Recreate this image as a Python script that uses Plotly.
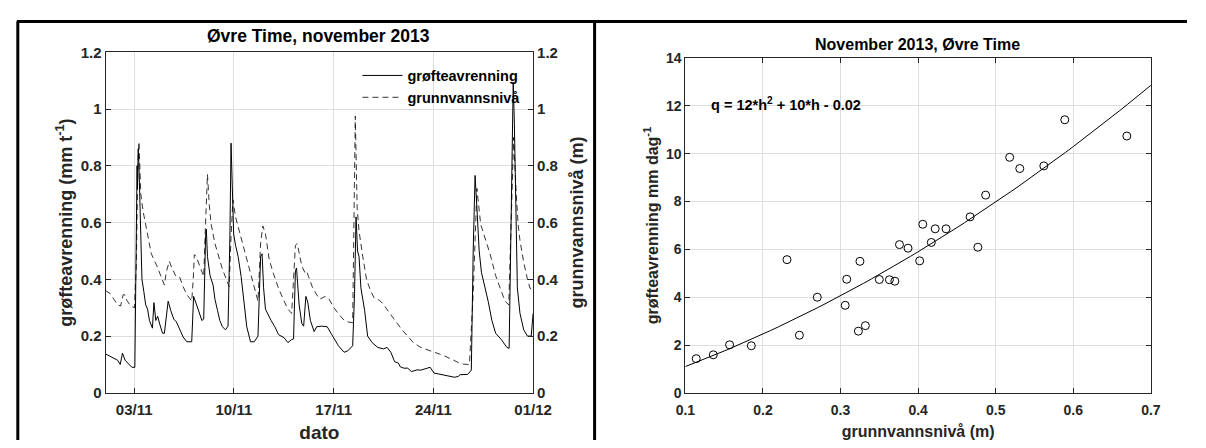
import pandas as pd
import plotly.graph_objects as go

# ---------------- data: left panel (time series, days after 2013-11-01 00:00) ----------------
q_days = [0, 0.447, 0.841, 1.024, 1.182, 1.366, 1.629, 1.839, 2.049, 2.101, 2.154, 2.206, 2.233, 2.285,
          2.338, 2.417, 2.548, 2.679, 2.811, 2.942, 3.073, 3.283, 3.389, 3.520, 3.651, 3.809, 3.993,
          4.124, 4.387, 4.571, 4.781, 4.965, 5.175, 5.437, 5.700, 6.042, 6.173, 6.357, 6.488, 6.751,
          6.882, 7.013, 7.066, 7.145, 7.329, 7.539, 7.670, 7.854, 8.012, 8.196, 8.406, 8.590, 8.721,
          8.800, 8.905, 8.984, 9.115, 9.299, 9.509, 9.719, 9.903, 10.166, 10.428, 10.691, 10.875,
          10.980, 11.085, 11.216, 11.348, 11.610, 11.873, 12.136, 12.530, 12.792, 13.055, 13.186,
          13.318, 13.396, 13.580, 13.764, 13.896, 14.053, 14.185, 14.368, 14.631, 14.815, 15.156,
          15.550, 15.813, 16.023, 16.338, 16.732, 16.995, 17.337, 17.468, 17.573, 17.678, 17.783,
          17.914, 18.177, 18.387, 18.703, 19.097, 19.490, 19.753, 20.016, 20.278, 20.541, 20.673,
          20.935, 21.198, 21.461, 21.855, 22.117, 22.774, 23.037, 23.431, 23.825, 24.219, 24.481,
          24.744, 24.875, 25.401, 25.663, 25.795, 25.926, 26.057, 26.215, 26.372, 26.583, 26.845,
          27.108, 27.371, 27.765, 28.159, 28.317, 28.422, 28.527, 28.605, 28.684, 28.789, 28.894,
          29.078, 29.341, 29.603, 29.866, 30.0]
q_vals = [0.137, 0.125, 0.115, 0.10, 0.14, 0.115, 0.10, 0.09, 0.09, 0.35, 0.70, 0.80, 0.72, 0.86,
          0.80, 0.60, 0.40, 0.357, 0.31, 0.295, 0.255, 0.228, 0.318, 0.255, 0.27, 0.24, 0.21,
          0.21, 0.323, 0.29, 0.26, 0.25, 0.225, 0.197, 0.18, 0.18, 0.34, 0.31, 0.295, 0.255,
          0.26, 0.55, 0.577, 0.48, 0.413, 0.38, 0.33, 0.29, 0.255, 0.233, 0.222, 0.235, 0.55,
          0.88, 0.70, 0.56, 0.52, 0.48, 0.41, 0.31, 0.233, 0.18, 0.18, 0.20, 0.48,
          0.49, 0.37, 0.295, 0.28, 0.255, 0.233, 0.205, 0.194, 0.177, 0.188, 0.19,
          0.43, 0.44, 0.31, 0.245, 0.235, 0.34, 0.32, 0.255, 0.216, 0.233, 0.235,
          0.233, 0.21, 0.194, 0.166, 0.143, 0.148, 0.166, 0.35, 0.62, 0.50, 0.48,
          0.37, 0.29, 0.20, 0.177, 0.16, 0.155, 0.16, 0.143, 0.11, 0.105, 0.092,
          0.087, 0.087, 0.075, 0.081, 0.08, 0.09, 0.07, 0.066, 0.062, 0.059, 0.055,
          0.058, 0.064, 0.065, 0.08, 0.50, 0.766, 0.65, 0.50, 0.425, 0.38, 0.323,
          0.255, 0.21, 0.188, 0.16, 0.157, 0.50, 0.85, 1.095, 0.95, 0.60, 0.37,
          0.28, 0.222, 0.20, 0.20, 0.28]

h_days = [0, 0.315, 0.578, 0.841, 1.051, 1.235, 1.366, 1.497, 1.760, 2.023, 2.154, 2.259, 2.338,
          2.469, 2.627, 2.811, 2.942, 3.205, 3.599, 3.861, 4.124, 4.255, 4.466, 4.649, 4.912, 5.175,
          5.437, 5.700, 6.042, 6.147, 6.225, 6.357, 6.619, 6.882, 7.013, 7.145, 7.276, 7.407, 7.670,
          7.933, 8.196, 8.458, 8.668, 8.800, 8.931, 9.115, 9.378, 9.640, 10.034, 10.428, 10.691,
          10.875, 11.032, 11.216, 11.479, 11.742, 12.136, 12.530, 12.792, 13.055, 13.318, 13.449,
          13.580, 13.764, 13.974, 14.106, 14.237, 14.500, 14.762, 15.025, 15.419, 15.682, 15.944,
          16.338, 16.732, 16.995, 17.337, 17.442, 17.520, 17.652, 17.783, 18.046, 18.309, 18.571,
          18.834, 19.228, 19.490, 19.885, 20.278, 20.804, 21.198, 21.592, 22.117, 22.643, 23.168,
          23.693, 24.219, 24.744, 25.138, 25.532, 25.795, 26.057, 26.320, 26.583, 26.977, 27.371,
          27.765, 28.028, 28.290, 28.474, 28.632, 28.816, 28.947, 29.078, 29.341, 29.603, 29.787,
          30.0]
h_vals = [0.36, 0.35, 0.33, 0.31, 0.306, 0.346, 0.345, 0.325, 0.306, 0.30, 0.45, 0.80, 0.885,
          0.70, 0.64, 0.594, 0.56, 0.49, 0.447, 0.413, 0.38, 0.425, 0.464, 0.44, 0.413, 0.41,
          0.374, 0.346, 0.323, 0.40, 0.487, 0.48, 0.447, 0.41, 0.60, 0.77, 0.66, 0.594, 0.526,
          0.48, 0.436, 0.402, 0.374, 0.55, 0.68, 0.62, 0.57, 0.515, 0.447, 0.368, 0.323,
          0.526, 0.588, 0.56, 0.47, 0.425, 0.368, 0.323, 0.295, 0.28, 0.52, 0.526,
          0.49, 0.447, 0.425, 0.43, 0.41, 0.374, 0.35, 0.33, 0.34, 0.33, 0.306,
          0.278, 0.256, 0.25, 0.247, 0.60, 0.975, 0.65, 0.57, 0.48, 0.40, 0.363,
          0.335, 0.326, 0.312, 0.284, 0.256, 0.222, 0.20, 0.177, 0.16, 0.151, 0.143,
          0.132, 0.12, 0.107, 0.101, 0.10, 0.35, 0.72, 0.594, 0.55, 0.49, 0.413,
          0.357, 0.323, 0.31, 0.60, 0.90, 0.70, 0.594, 0.537, 0.46, 0.40, 0.368,
          0.363]

date_ticks = ["2013-11-03", "2013-11-10", "2013-11-17", "2013-11-24", "2013-12-01"]
date_ticktext = ["03/11", "10/11", "17/11", "24/11", "01/12"]
left_yticks = [0, 0.2, 0.4, 0.6, 0.8, 1.0, 1.2]
left_yticktext = ["0", "0.2", "0.4", "0.6", "0.8", "1", "1.2"]

# ---------------- data: right panel (scatter) ----------------
gw_level = [0.114, 0.136, 0.157, 0.185, 0.231, 0.247, 0.270, 0.306, 0.308, 0.323, 0.325, 0.332,
            0.350, 0.363, 0.370, 0.376, 0.387, 0.402, 0.417, 0.422, 0.436, 0.477, 0.406,
            0.467, 0.487, 0.518, 0.531, 0.562, 0.589, 0.669]
drainage = [1.43, 1.59, 2.01, 1.97, 5.57, 2.41, 4.00, 3.66, 4.75, 2.58, 5.50, 2.81,
            4.74, 4.73, 4.67, 6.20, 6.05, 5.52, 6.29, 6.86, 6.86, 6.09, 7.05,
            7.36, 8.27, 9.85, 9.38, 9.49, 11.42, 10.74]
fit_coef = [12, 10, -0.02]          # q = a*h^2 + b*h + c (as given on the chart)
fit_h = [0.1 + 0.01 * i for i in range(61)]
fit_q = [fit_coef[0] * h ** 2 + fit_coef[1] * h + fit_coef[2] for h in fit_h]

# ---------------- figure ----------------
t0 = pd.Timestamp("2013-11-01")
q_time = [t0 + pd.Timedelta(days=d) for d in q_days]
h_time = [t0 + pd.Timedelta(days=d) for d in h_days]

W, H = 1206, 448
FONT = "Arial"
TXT = "#262626"

def px(x):          # pixel -> paper fraction
    return x / W

def py(y):
    return 1 - y / H

fig = go.Figure()
fig.add_trace(go.Scatter(x=q_time, y=q_vals, mode="lines", name="grøfteavrenning",
                         line=dict(color="black", width=1), xaxis="x", yaxis="y"))
fig.add_trace(go.Scatter(x=h_time, y=h_vals, mode="lines", name="grunnvannsnivå",
                         line=dict(color="black", width=0.8, dash="6px,4px"),
                         xaxis="x", yaxis="y2"))
fig.add_trace(go.Scatter(x=fit_h, y=fit_q, mode="lines", showlegend=False,
                         line=dict(color="black", width=1), xaxis="x2", yaxis="y3"))
fig.add_trace(go.Scatter(x=gw_level, y=drainage, mode="markers", showlegend=False,
                         marker=dict(symbol="circle-open", size=8, color="black",
                                     line=dict(width=1, color="black")),
                         xaxis="x2", yaxis="y3"))

bold = dict(family=FONT, weight="bold", color=TXT)
ax_common = dict(showline=True, linecolor=TXT, linewidth=1, ticks="inside", ticklen=5,
                 tickcolor=TXT, gridcolor="#dedede", gridwidth=1, zeroline=False)

fig.update_layout(
    width=W, height=H, margin=dict(l=0, r=0, t=0, b=0),
    paper_bgcolor="white", plot_bgcolor="white",
    showlegend=True,
    legend=dict(x=px(356), y=py(52.5), xanchor="left", yanchor="top",
                bgcolor="rgba(255,255,255,0)", borderwidth=0,
                font=dict(family=FONT, weight="bold", size=14.5, color="black"),
                tracegroupgap=0, itemwidth=40),
    xaxis=dict(**ax_common, type="date", domain=[px(98), px(536)], anchor="y",
               range=["2013-11-01", "2013-12-01"], tickvals=date_ticks, ticktext=date_ticktext,
               tickfont=dict(**bold, size=15), mirror=True, showgrid=True, ticklabelstandoff=3,
               title=dict(text="dato", font=dict(**bold, size=19), standoff=8)),
    yaxis=dict(**ax_common, domain=[py(399), py(45)], anchor="x", range=[0, 1.2],
               tickvals=left_yticks, ticktext=left_yticktext, showgrid=True,
               tickfont=dict(**bold, size=15),
               title=dict(text="grøfteavrenning (mm t<sup>-1</sup>)", font=dict(**bold, size=18),
                          standoff=3)),
    yaxis2=dict(**ax_common, overlaying="y", side="right", anchor="x", range=[0, 1.2],
                tickvals=left_yticks, ticktext=left_yticktext, showgrid=False,
                tickfont=dict(**bold, size=15),
                title=dict(text="grunnvannsnivå (m)", font=dict(**bold, size=18), standoff=12)),
    xaxis2=dict(**ax_common, domain=[px(692), px(1169)], anchor="y3", range=[0.1, 0.7],
                dtick=0.1, tick0=0.1, mirror="ticks", showgrid=True, ticklabelstandoff=4,
                tickfont=dict(**bold, size=14),
                title=dict(text="grunnvannsnivå (m)", font=dict(**bold, size=16), standoff=9)),
    yaxis3=dict(**ax_common, domain=[py(399), py(51)], anchor="x2", range=[0, 14],
                dtick=2, mirror="ticks", showgrid=True,
                tickfont=dict(**bold, size=14),
                title=dict(text="grøfteavrenning mm dag<sup>-1</sup>", font=dict(**bold, size=16),
                           standoff=3)),
)

fig.add_annotation(text="Øvre Time, november 2013", xref="paper", yref="paper",
                   x=px(316), y=py(28.5), xanchor="center", yanchor="middle", showarrow=False,
                   font=dict(family=FONT, weight="bold", size=17.5, color="black"))
fig.add_annotation(text="November 2013, Øvre Time", xref="paper", yref="paper",
                   x=px(930), y=py(36.5), xanchor="center", yanchor="middle", showarrow=False,
                   font=dict(family=FONT, weight="bold", size=16, color="black"))
fig.add_annotation(text="q = 12*h<sup>2</sup> + 10*h - 0.02", xref="paper", yref="paper",
                   x=px(716), y=py(98.5), xanchor="left", yanchor="middle", showarrow=False,
                   font=dict(family=FONT, weight="bold", size=14.5, color="black"))

# panel frame lines
frame = dict(color="black", width=3)
fig.add_shape(type="line", xref="paper", yref="paper", x0=px(7), x1=1, y0=py(13), y1=py(13), line=frame)
fig.add_shape(type="line", xref="paper", yref="paper", x0=px(8), x1=px(8), y0=py(13), y1=0, line=frame)
fig.add_shape(type="line", xref="paper", yref="paper", x0=px(599), x1=px(599), y0=py(13), y1=0, line=frame)

fig.write_html("out.html")
